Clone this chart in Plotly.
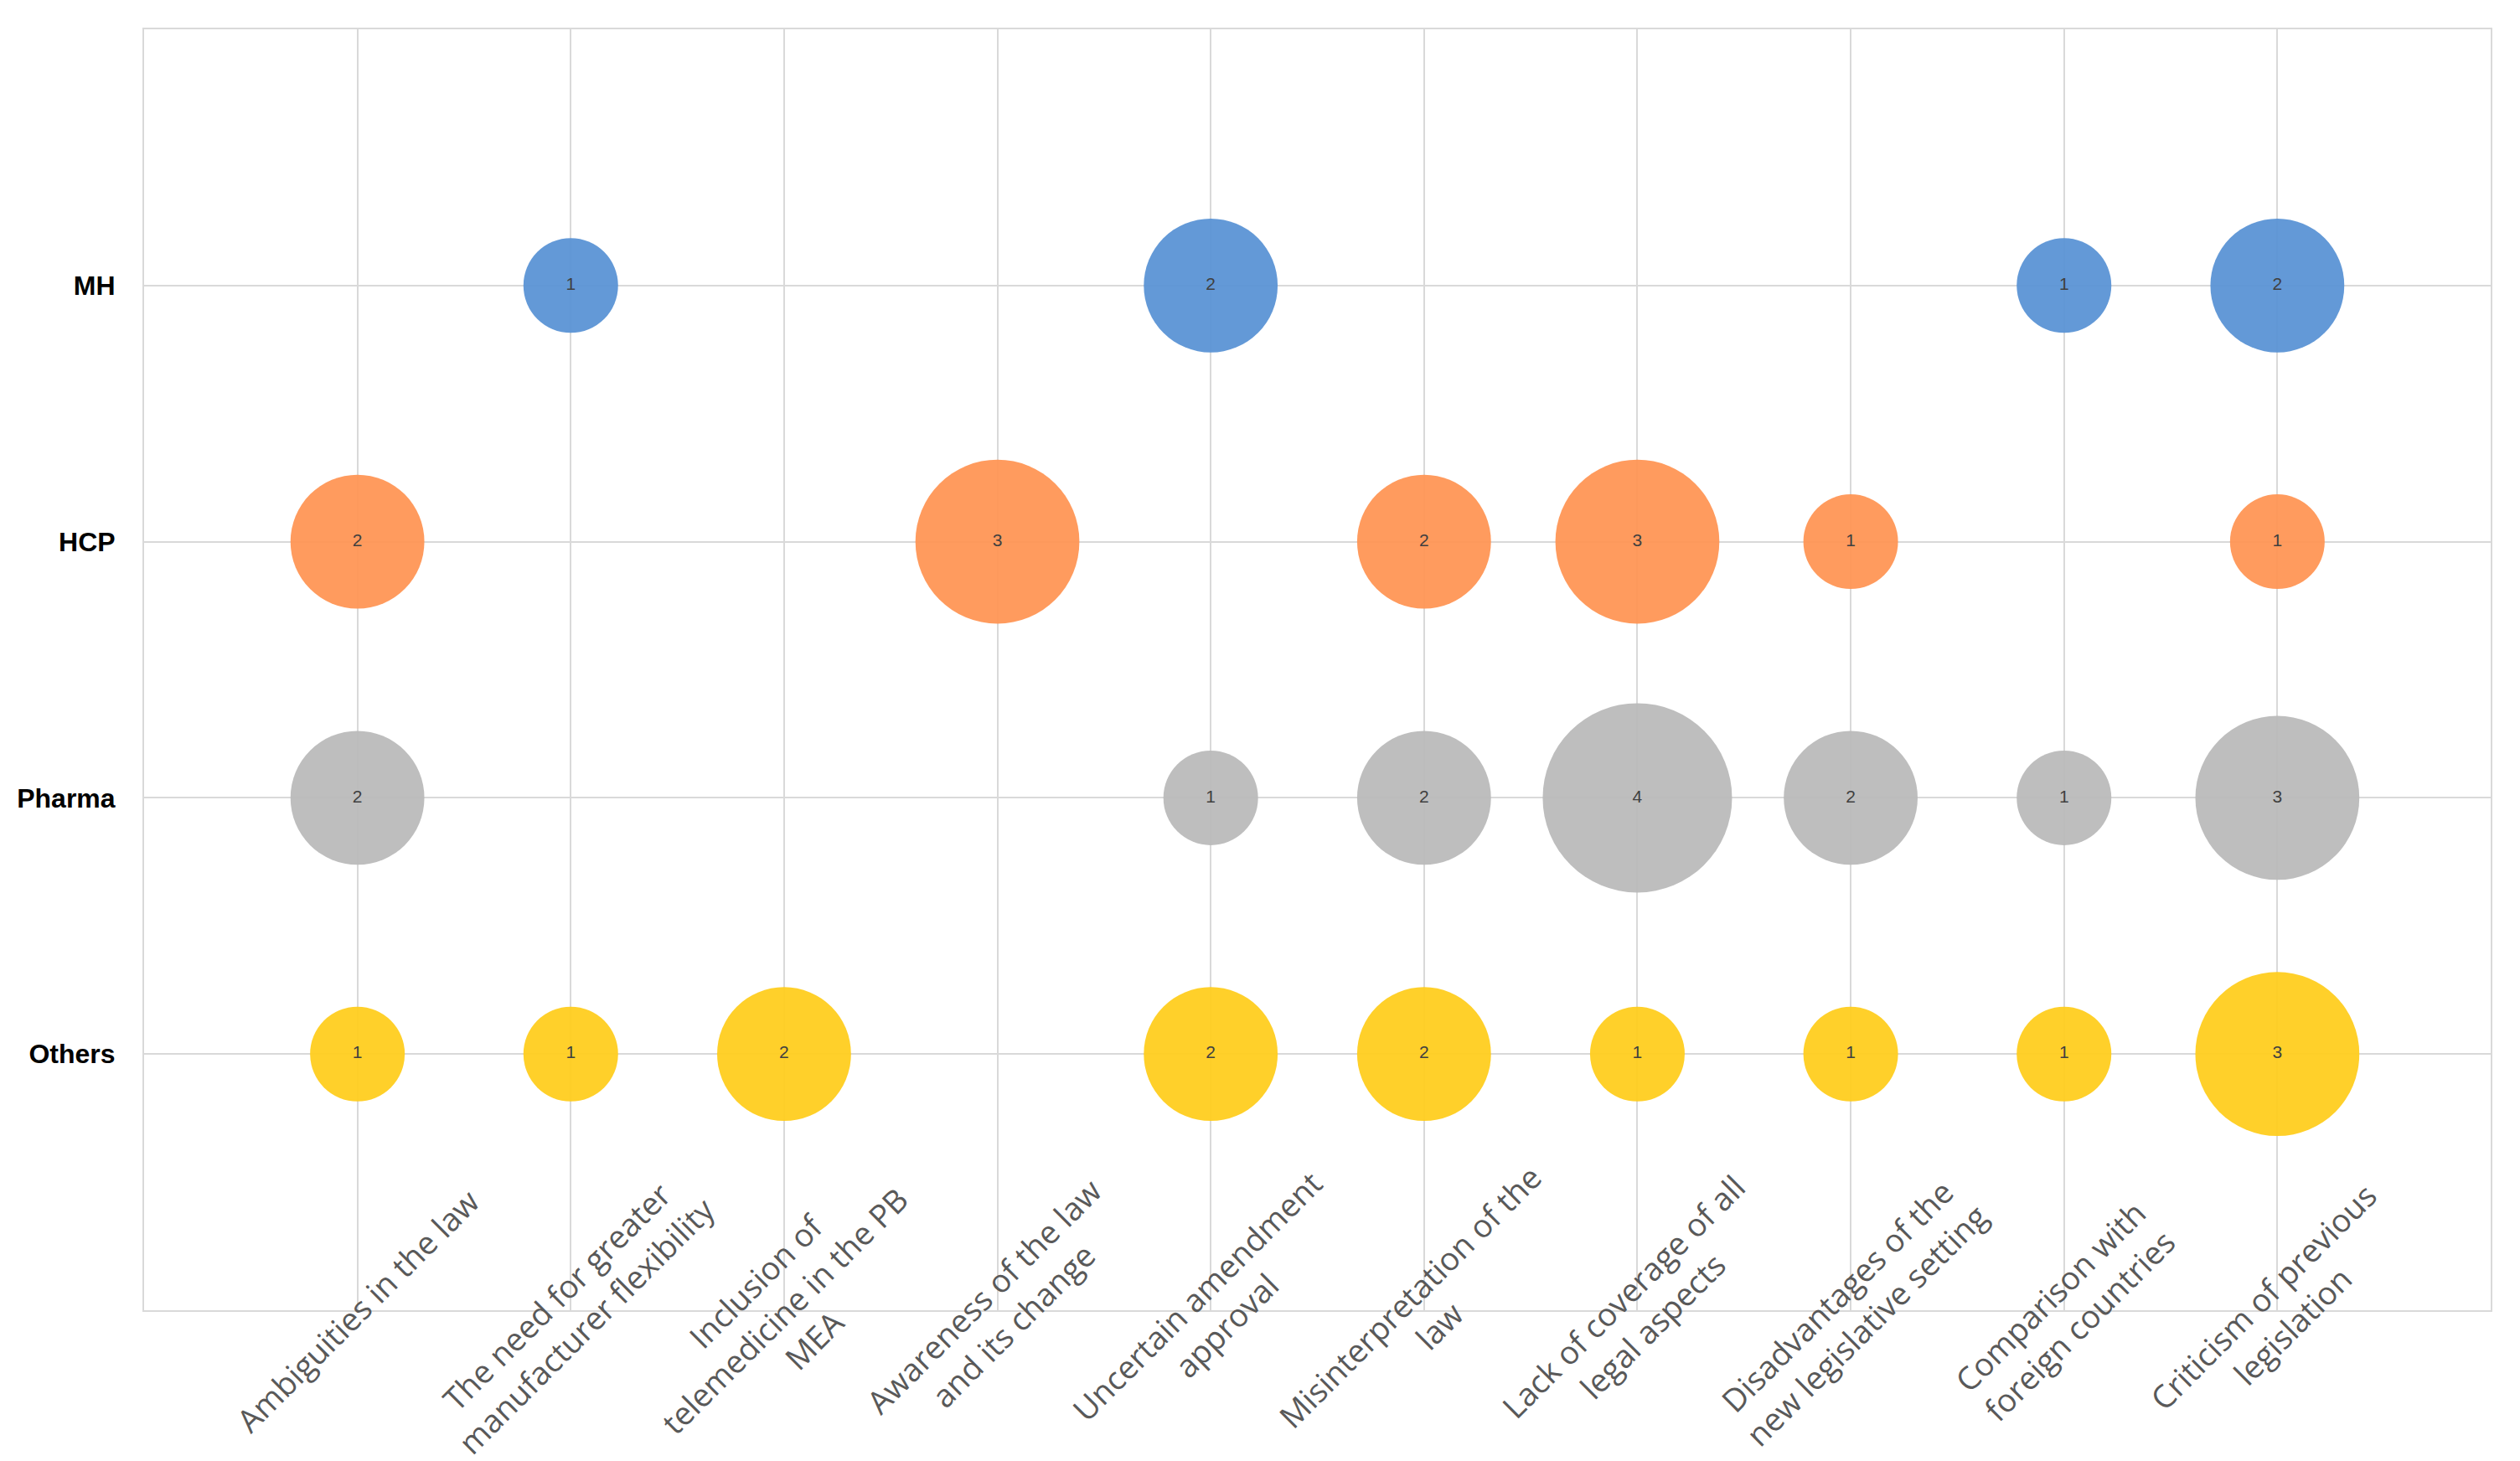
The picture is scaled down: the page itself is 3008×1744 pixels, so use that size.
import plotly.graph_objects as go

categories = [
    "Ambiguities in the law",
    "The need for greater<br>manufacturer flexibility",
    "Inclusion of<br>telemedicine in the PB<br>MEA",
    "Awareness of the law<br>and its change",
    "Uncertain amendment<br>approval",
    "Misinterpretation of the<br>law",
    "Lack of coverage of all<br>legal aspects",
    "Disadvantages of the<br>new legislative setting",
    "Comparison with<br>foreign countries",
    "Criticism of previous<br>legislation",
]
groups = ["Others", "Pharma", "HCP", "MH"]
colors = {"MH": "#5B93D5", "HCP": "#FF9655", "Pharma": "#BBBBBB", "Others": "#FFCD1F"}

# counts per group (None = no bubble)
mh_vals =     [None, 1, None, None, 2, None, None, None, 1, 2]
hcp_vals =    [2, None, None, 3, None, 2, 3, 1, None, 1]
pharma_vals = [2, None, None, None, 1, 2, 4, 2, 1, 3]
others_vals = [1, 1, 2, None, 2, 2, 1, 1, 1, 3]

series = {"Others": others_vals, "Pharma": pharma_vals, "HCP": hcp_vals, "MH": mh_vals}

fig = go.Figure()
d1 = 113.0
sizeref = 2.0 / (d1 * d1)
for gi, g in enumerate(groups):
    vals = series[g]
    xs, ys, ss = [], [], []
    for ci, v in enumerate(vals):
        if v is not None:
            xs.append(ci + 1)
            ys.append(gi + 1)
            ss.append(v)
    fig.add_trace(go.Scatter(
        x=xs, y=ys, mode="markers+text",
        text=[str(s) for s in ss], textposition="middle center",
        textfont=dict(family="Liberation Sans Narrow, Arial Narrow, Liberation Sans", size=21, color="#404040"),
        marker=dict(size=ss, sizemode="area", sizeref=sizeref, color=colors[g], opacity=0.95,
                    line=dict(width=0)),
        name=g, showlegend=False, cliponaxis=False,
    ))

for ci, lab in enumerate(categories):
    fig.add_annotation(
        x=ci + 1, y=0, xref="x", yref="y", text=lab, showarrow=False,
        textangle=-45, xanchor="center", yanchor="middle", align="center",
        font=dict(family="Open Sans", size=38, color="#595959"),
    )

fig.update_xaxes(range=[0, 11], tickvals=list(range(1, 11)), showticklabels=False,
                 showgrid=True, gridcolor="#D9D9D9", gridwidth=2, zeroline=False,
                 showline=True, linecolor="#D9D9D9", linewidth=2, mirror=True, ticks="")
fig.update_yaxes(range=[0, 5], tickvals=[1, 2, 3, 4], ticktext=groups,
                 showgrid=True, gridcolor="#D9D9D9", gridwidth=2, zeroline=False,
                 showline=True, linecolor="#D9D9D9", linewidth=2, mirror=True, ticks="",
                 ticklabelstandoff=26,
                 tickfont=dict(family="Liberation Sans Narrow, Arial Narrow, Liberation Sans", size=32, color="#000000", weight="bold"))
fig.update_layout(width=3008, height=1744, margin=dict(l=160, r=43, t=27, b=188),
                  plot_bgcolor="white", paper_bgcolor="white")
fig.write_html("out.html")
